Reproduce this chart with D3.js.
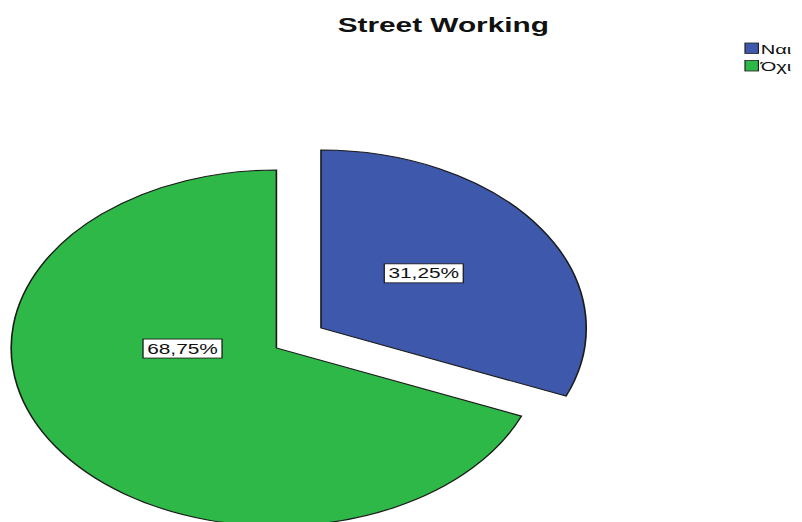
<!DOCTYPE html>
<html>
<head>
<meta charset="utf-8">
<script src="https://cdn.jsdelivr.net/npm/d3@7"></script>
<style>
  html, body { margin: 0; padding: 0; background: #fff; }
  svg { display: block; }
</style>
</head>
<body>
<div id="chart"></div>
<script>
// Street Working: answers Ναι / Όχι as percentages
const categories = ["Ναι", "Όχι"];
const values = [31.25, 68.75];
const colors = ["#3E58AC", "#2EB848"];
const title = "Street Working";

const width = 802, height = 522;
// The chart is drawn on a narrower canvas and stretched to the page width.
const stretch = 1.49;
const innerW = width / stretch;

const svg = d3.select("#chart").append("svg")
  .attr("width", width)
  .attr("height", height)
  .attr("viewBox", `0 0 ${innerW} ${height}`)
  .attr("preserveAspectRatio", "none");

svg.append("rect").attr("width", innerW).attr("height", height).attr("fill", "#fff");

const font = "'Liberation Sans', Arial, sans-serif";

svg.append("text")
  .attr("x", 297.5).attr("y", 32)
  .attr("text-anchor", "middle")
  .attr("font-family", font)
  .attr("font-weight", "bold")
  .attr("font-size", 20)
  .attr("fill", "#111")
  .text(title);

const data = categories.map((c, i) => ({ cat: c, value: values[i], color: colors[i] }));

const pie = d3.pie().value(d => d.value).sort(null);
const R = 178;
const arc = d3.arc().innerRadius(0).outerRadius(R);
const cx = 185.5, cy = 348;
const explode = 36;

const fmt = v => d3.format(".2f")(v).replace(".", ",") + "%";

// label anchor per slice: [radius, angle in degrees clockwise from 12 o'clock]
const labelPlace = [[88, 51.6], [63, 269.5]];

const g = svg.append("g").attr("transform", `translate(${cx},${cy})`);
const arcs = pie(data);

arcs.forEach((a, i) => {
  const mid = (a.startAngle + a.endAngle) / 2;
  const off = i === 0 ? explode : 0;
  const ox = Math.sin(mid) * off, oy = -Math.cos(mid) * off;
  const sg = g.append("g").attr("transform", `translate(${ox},${oy})`);
  sg.append("path")
    .attr("d", arc(a))
    .attr("fill", a.data.color)
    .attr("stroke", "#1b1b1b")
    .attr("stroke-width", 1.1);

  const [lr, la] = labelPlace[i];
  const ang = la * Math.PI / 180;
  const lx = Math.sin(ang) * lr, ly = -Math.cos(ang) * lr;
  const lg = sg.append("g").attr("transform", `translate(${lx},${ly})`);
  lg.append("rect")
    .attr("x", -26.5).attr("y", -9.5)
    .attr("width", 53).attr("height", 19)
    .attr("fill", "#fff")
    .attr("stroke", "#111")
    .attr("stroke-width", 0.8);
  lg.append("text")
    .attr("text-anchor", "middle")
    .attr("dy", "0.36em")
    .attr("font-family", font)
    .attr("font-size", 14)
    .attr("fill", "#111")
    .text(fmt(a.data.value));
});

// legend
const leg = svg.append("g").attr("transform", "translate(500,43)");
data.forEach((d, i) => {
  const row = leg.append("g").attr("transform", `translate(0,${i * 17.5})`);
  row.append("rect")
    .attr("width", 9).attr("height", 10.5)
    .attr("fill", d.color)
    .attr("stroke", "#222")
    .attr("stroke-width", 0.8);
  row.append("text")
    .attr("x", 10.5).attr("y", 10.8)
    .attr("font-family", font)
    .attr("font-size", 13.5)
    .attr("fill", "#111")
    .text(d.cat);
});
</script>
</body>
</html>
